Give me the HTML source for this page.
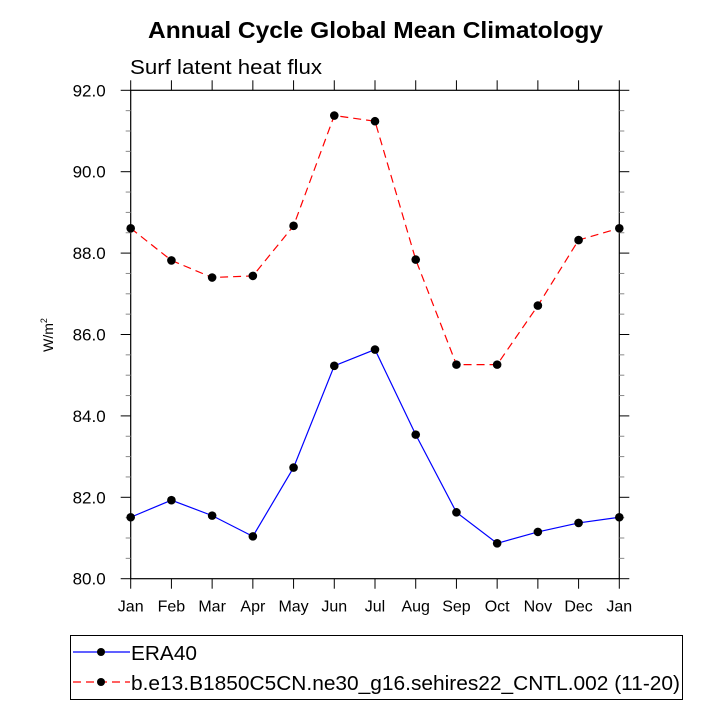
<!DOCTYPE html>
<html><head><meta charset="utf-8"><style>
body{margin:0;background:#fff;}
svg{display:block;font-family:"Liberation Sans",Arial,sans-serif;}
</style></head><body>
<svg id="chart" width="720" height="720">
<text x="148" y="38" font-size="23" font-weight="bold" textLength="455" lengthAdjust="spacingAndGlyphs">Annual Cycle Global Mean Climatology</text>
<text x="130" y="74" font-size="20" textLength="192" lengthAdjust="spacingAndGlyphs">Surf latent heat flux</text>
<text transform="translate(53,335) rotate(-90)" text-anchor="middle" font-size="14">W/m<tspan font-size="9" dy="-6">2</tspan></text>
<g id="axes"></g>
<g id="series"></g>
<g>
<rect x="70.5" y="635.5" width="612" height="64" fill="none" stroke="#000" stroke-width="1"/>
<g>
<line x1="73" y1="652" x2="130" y2="652" stroke="#00f" stroke-width="1.2"/>
<circle cx="101" cy="652" r="4" fill="#000"/>
<text x="131" y="660" font-size="20" textLength="66" lengthAdjust="spacingAndGlyphs">ERA40</text>
</g>
<g>
<line x1="73" y1="682" x2="130" y2="682" stroke="#f00" stroke-width="1.2" stroke-dasharray="8,5"/>
<circle cx="101" cy="682" r="4" fill="#000"/>
<text x="131" y="690" font-size="20" textLength="549" lengthAdjust="spacingAndGlyphs">b.e13.B1850C5CN.ne30_g16.sehires22_CNTL.002 (11-20)</text>
</g>
</g>
</svg>
<script>
const months = ["Jan","Feb","Mar","Apr","May","Jun","Jul","Aug","Sep","Oct","Nov","Dec","Jan"];
const era40 = [81.51,81.93,81.55,81.04,82.73,85.23,85.63,83.54,81.63,80.87,81.15,81.37,81.51];
const model = [88.61,87.82,87.40,87.44,88.67,91.38,91.24,87.84,85.26,85.26,86.71,88.32,88.61];
const yTicks = ["80.0","82.0","84.0","86.0","88.0","90.0","92.0"];

const NS="http://www.w3.org/2000/svg";
const X0=130.7,X1=619.3,Y0=578.7,Y1=90.3,YMIN=80,YMAX=92;
const xs=i=>X0+(X1-X0)*i/(months.length-1);
const ys=v=>Y0-(Y0-Y1)*(v-YMIN)/(YMAX-YMIN);
function mk(tag,attrs,parent){const e=document.createElementNS(NS,tag);for(const k in attrs)e.setAttribute(k,attrs[k]);parent.appendChild(e);return e;}
const axes=document.getElementById('axes');
const fr=mk('rect',{x:X0,y:Y1,width:X1-X0,height:Y0-Y1,fill:'none',stroke:'#000','stroke-width':1.2},axes);


months.forEach((m,i)=>{
  const x=xs(i);
  mk('line',{x1:x,y1:Y0,x2:x,y2:Y0+10,stroke:'#000','stroke-width':1},axes);
  mk('line',{x1:x,y1:Y1,x2:x,y2:Y1-10,stroke:'#000','stroke-width':1},axes);
  const t=mk('text',{x:x,y:Y0+33,'text-anchor':'middle','font-size':16},axes);
  t.textContent=m;
  
  
});
yTicks.forEach(s=>{
  const v=parseFloat(s),y=ys(v);
  mk('line',{x1:X0,y1:y,x2:X0-10,y2:y,stroke:'#000','stroke-width':1},axes);
  mk('line',{x1:X1,y1:y,x2:X1+10,y2:y,stroke:'#000','stroke-width':1},axes);
  const t=mk('text',{x:X0-25,y:y+6,'text-anchor':'end','font-size':17},axes);
  t.textContent=s;
  
  
});
for(let v=YMIN+0.5;v<YMAX;v+=0.5){
  if(Math.abs(v-Math.round(v/2)*2)<1e-6)continue;
  const y=ys(v);
  mk('line',{x1:X0,y1:y,x2:X0-5,y2:y,stroke:'#888','stroke-width':1},axes);
  mk('line',{x1:X1,y1:y,x2:X1+5,y2:y,stroke:'#888','stroke-width':1},axes);
}
const ser=document.getElementById('series');
function draw(vals,color,dash,name){
  const g=mk('g',{},ser);
  
  
  const pts=vals.map((v,i)=>xs(i)+','+ys(v)).join(' ');
  const a={points:pts,fill:'none',stroke:color,'stroke-width':1.2};
  if(dash)a['stroke-dasharray']=dash;
  const pl=mk('polyline',a,g);
  
  
  vals.forEach((v,i)=>{
    const c=mk('circle',{cx:xs(i),cy:ys(v),r:4.3,fill:'#000'},g);
    
    
  });
}
draw(model,'#f00','8,5','model-series');
draw(era40,'#00f',null,'era40-series');
</script>
</body></html>
